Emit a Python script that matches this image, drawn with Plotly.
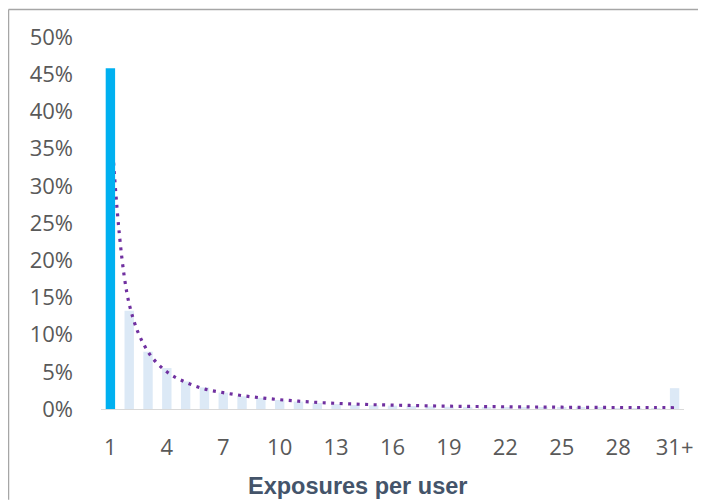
import plotly.graph_objects as go

# Data
exposures = list(range(1, 32))
tick_vals = [1, 4, 7, 10, 13, 16, 19, 22, 25, 28, 31]
tick_text = ["1", "4", "7", "10", "13", "16", "19", "22", "25", "28", "31+"]
share_pct = [45.8, 13.2, 7.7, 5.5, 3.7, 2.9, 2.2, 1.7, 1.5, 1.2,
             1.0, 0.8, 0.65, 0.55, 0.5, 0.45, 0.4, 0.35, 0.3, 0.28,
             0.25, 0.22, 0.2, 0.18, 0.16, 0.15, 0.14, 0.13, 0.12, 0.11, 2.8]
trend_pct = [40.0, 14.1, 7.7, 5.0, 3.6, 2.7, 2.2, 1.8, 1.5, 1.25,
             1.05, 0.88, 0.76, 0.66, 0.58, 0.52, 0.47, 0.42, 0.38, 0.35,
             0.32, 0.30, 0.28, 0.26, 0.24, 0.22, 0.21, 0.20, 0.19, 0.18, 0.17]
y_ticks = [0, 5, 10, 15, 20, 25, 30, 35, 40, 45, 50]
y_text = [f"{v}%" for v in y_ticks]

light_colors = ["rgba(0,0,0,0)"] + ["#DCE9F6"] * (len(exposures) - 1)

fig = go.Figure()
# light bars (main axes)
fig.add_trace(go.Bar(x=exposures, y=share_pct, width=0.5,
                     marker=dict(color=light_colors, line_width=0),
                     hoverinfo="skip", showlegend=False))
# trend line
fig.add_trace(go.Scatter(x=exposures, y=trend_pct, mode="lines",
                         line=dict(color="#7030A0", width=3.2, dash="3px,5.5px", shape="spline"),
                         showlegend=False))
# highlighted first bar on overlay axes so that it sits above the line
fig.add_trace(go.Bar(x=exposures[:1], y=share_pct[:1], width=0.5,
                     marker=dict(color="#00B0F0", line_width=0),
                     xaxis="x2", yaxis="y2", showlegend=False))

# page body has an 8px margin: figure drawn at (8,8)
OFF = 8
W, H = 706 - OFF, 500 - OFF
L = 101 - OFF
R = 22
T = 37 - OFF
B = H - (409.3 - OFF)
pw = W - L - R
ph = H - T - B

def px_x(p):
    return (p - OFF - L) / pw

def px_y(p):
    return (H - B - (p - OFF)) / ph

border = dict(color="#A6A6A6", width=1.5)

fig.update_layout(
    width=W, height=H,
    margin=dict(l=L, r=R, t=T, b=B, autoexpand=False),
    paper_bgcolor="white", plot_bgcolor="white",
    barmode="overlay",
    xaxis=dict(range=[0.5, 31.5], tickvals=tick_vals, ticktext=tick_text,
               showgrid=False, zeroline=False, showline=True,
               linecolor="#D9D9D9", linewidth=1, ticks="",
               ticklabelstandoff=19,
               tickfont=dict(family="Open Sans", size=22, color="#595959")),
    yaxis=dict(range=[0, 50], tickvals=y_ticks, ticktext=y_text,
               showgrid=False, zeroline=False, showline=False, ticks="",
               ticklabelstandoff=27,
               tickfont=dict(family="Open Sans", size=22, color="#595959")),
    xaxis2=dict(range=[0.5, 31.5], overlaying="x", visible=False),
    yaxis2=dict(range=[0, 50], overlaying="y", visible=False),
    annotations=[dict(text="<b>Exposures per user</b>", xref="paper", yref="paper",
                      x=px_x(357.5), y=px_y(486), xanchor="center", yanchor="middle",
                      showarrow=False,
                      font=dict(family="Liberation Sans", size=23.5, color="#44546A"))],
    shapes=[
        dict(type="line", xref="paper", yref="paper",
             x0=px_x(8.5), y0=px_y(9.5), x1=px_x(706), y1=px_y(9.5),
             line=border, layer="below"),
        dict(type="line", xref="paper", yref="paper",
             x0=px_x(8.5), y0=px_y(9.5), x1=px_x(8.5), y1=px_y(500),
             line=border, layer="below"),
    ],
)

fig.write_html("out.html", config={"displayModeBar": False},
               post_script="document.documentElement.style.overflow='hidden';"
                           "document.body.style.overflow='hidden';")
